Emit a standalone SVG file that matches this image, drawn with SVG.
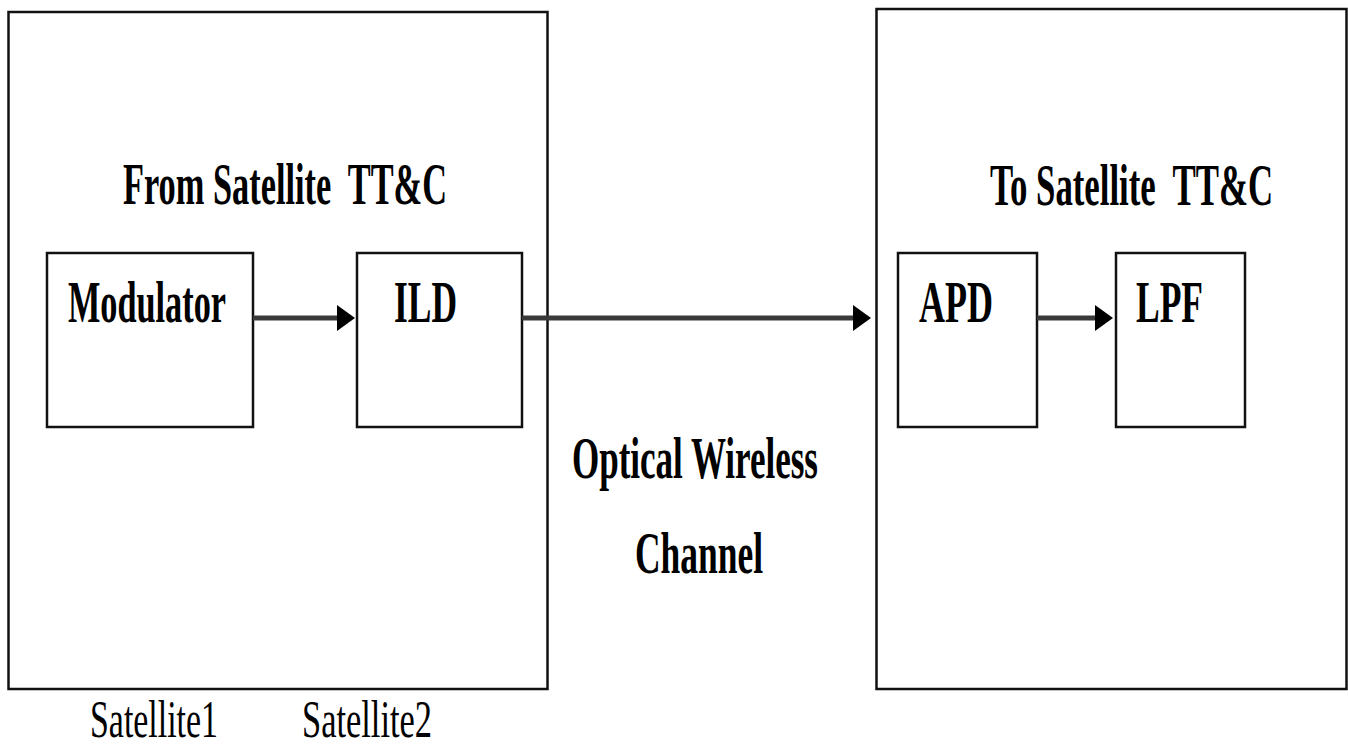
<svg xmlns="http://www.w3.org/2000/svg" width="1348" height="748" viewBox="0 0 1348 748">
<style>
.frame{fill:none;stroke:#111;stroke-width:2.5}
.box{fill:#fff;stroke:#111;stroke-width:2.5}
.lbl{font-family:"Liberation Serif","Times New Roman",serif;font-weight:bold;font-size:59px;fill:#000;white-space:pre}
.lbl40{font-family:"Liberation Serif","Times New Roman",serif;font-weight:bold;font-size:40px;fill:#000;white-space:pre}
.sat{font-family:"Liberation Serif","Times New Roman",serif;font-size:48px;fill:#000}
.conn{stroke:#3a3a3a;stroke-width:5;fill:none}
</style>
<defs>
<marker id="ah" markerUnits="userSpaceOnUse" markerWidth="20" markerHeight="28" refX="1" refY="13" orient="auto">
<path d="M0,0 L18,13 L0,26 z" fill="#000"/>
</marker>
</defs>
<rect width="1348" height="748" fill="#fff"/>
<g id="satellite1">
<rect class="frame" x="8.5" y="12" width="539" height="677"/>
<text class="lbl" x="123" y="204" textLength="324" lengthAdjust="spacingAndGlyphs">From Satellite  TT&amp;C</text>
<g transform="translate(0,737) scale(1,1.1)">
<text class="sat" x="90" y="0" textLength="128" lengthAdjust="spacingAndGlyphs">Satellite1</text>
<text class="sat" x="302" y="0" textLength="130" lengthAdjust="spacingAndGlyphs">Satellite2</text>
</g>
</g>
<g id="satellite2">
<rect class="frame" x="876.5" y="9" width="470" height="680"/>
<text class="lbl40" transform="translate(990,205) scale(1,1.475)" x="0" y="0" textLength="283" lengthAdjust="spacingAndGlyphs">To Satellite  TT&amp;C</text>
</g>
<g id="modulator">
<rect class="box" x="47" y="253" width="206" height="174"/>
<text class="lbl" x="68" y="322" textLength="158" lengthAdjust="spacingAndGlyphs">Modulator</text>
</g>
<g id="ild">
<rect class="box" x="357" y="253" width="165" height="174"/>
<text class="lbl" x="394" y="322" textLength="63" lengthAdjust="spacingAndGlyphs">ILD</text>
</g>
<g id="apd">
<rect class="box" x="898" y="253" width="139" height="174"/>
<text class="lbl" x="919" y="322" textLength="74" lengthAdjust="spacingAndGlyphs">APD</text>
</g>
<g id="lpf">
<rect class="box" x="1116" y="253" width="129" height="174"/>
<text class="lbl" x="1136" y="322" textLength="67" lengthAdjust="spacingAndGlyphs">LPF</text>
</g>
<g id="channel">
<text class="lbl" x="572" y="478" textLength="246" lengthAdjust="spacingAndGlyphs">Optical Wireless</text>
<text class="lbl" x="635" y="573" textLength="128" lengthAdjust="spacingAndGlyphs">Channel</text>
</g>
<g id="connectors">
<line class="conn" x1="253" y1="318" x2="338" y2="318" marker-end="url(#ah)"/>
<line class="conn" x1="522" y1="318" x2="854" y2="318" marker-end="url(#ah)"/>
<line class="conn" x1="1037" y1="318" x2="1096" y2="318" marker-end="url(#ah)"/>
</g>
</svg>
